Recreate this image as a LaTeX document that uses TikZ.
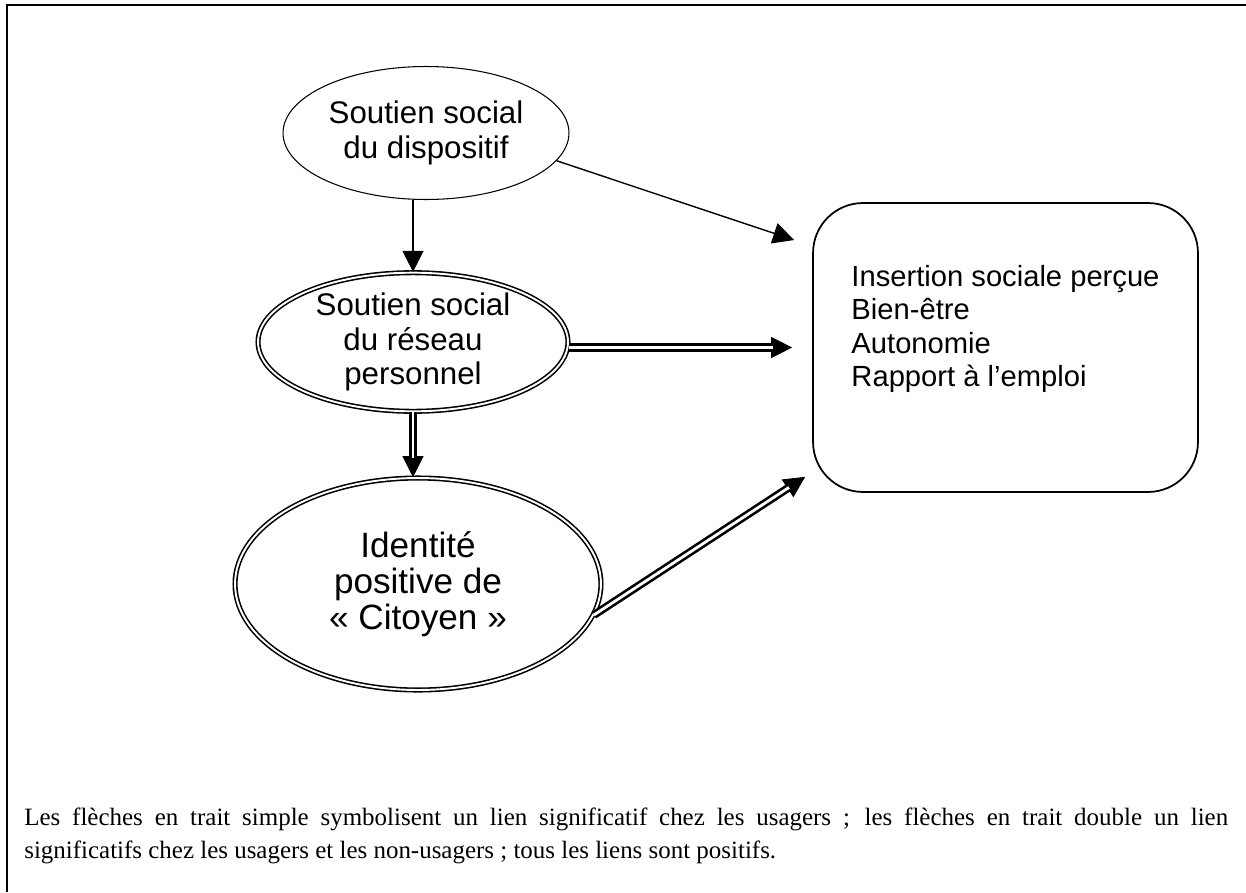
\documentclass[tikz,border=0pt]{standalone}
\usepackage{fontspec}
\setmainfont{Liberation Serif}
\newfontfamily\arialfam{Liberation Sans}
\usetikzlibrary{shapes.geometric,arrows.meta}

\begin{document}
\begin{tikzpicture}[x=0.02cm, y=-0.02cm,
		bulle/.style={ellipse, draw, line width=0.6pt, inner sep=0pt, align=center, font=\arialfam\fontsize{17.8}{19.6}\selectfont},
		bulledouble/.style={bulle, double, line width=0.9pt, double distance=1.1pt},
		fleche/.style={line width=0.8pt, -{Triangle[length=12pt, width=12pt]}},
		flechedouble/.style={line width=4.6pt, -{Triangle[length=12pt, width=12pt, line width=0.5pt]}, postaction={draw=white, line width=1.6pt, -, shorten >=11pt}}]
		\useasboundingbox (0,0) rectangle (1246,892);
		\draw[line width=1.4pt] (1246,5) -- (7,5) -- (7,892);

		\node[bulle, minimum width=5.72cm, minimum height=2.66cm] (disp) at (426,133) {Soutien social\\du dispositif};
		\node[bulledouble, minimum width=6.2cm, minimum height=2.74cm] (reseau) at (413,342) {Soutien social\\du réseau\\personnel};
		\node[bulledouble, minimum width=7.32cm, minimum height=4.24cm, font=\arialfam\fontsize{20}{20.6}\selectfont] (ident) at (418,584) {Identité\\positive de\\«~Citoyen~»};
		\node[draw, rounded corners=1cm, line width=1pt, minimum width=7.7cm, minimum height=5.78cm, align=left, font=\arialfam\fontsize{16.6}{19}\selectfont] (effets) at (1005.5,347.5) {Insertion sociale perçue\\Bien-être\\Autonomie\\Rapport à l’emploi\\\strut};

		\draw[fleche] (disp.south -| reseau.north) -- (reseau.north);
		\draw[fleche] (disp.-12) -- ([xshift=-0.36cm, yshift=2.15cm]effets.west);
		\draw[flechedouble] (effets.west -| reseau.east) -- ([xshift=-0.4cm]effets.west);
		\draw[flechedouble] (reseau.south) -- (reseau.south |- ident.north);
		\draw[flechedouble] (ident.-10) -- ([xshift=-0.14cm, yshift=0.32cm]effets.south west);

		\node[anchor=north west, inner sep=0pt, text width=24.08cm, align=justify, font=\fontsize{14.2}{18.7}\selectfont] (legende) at (24,808) {Les flèches en trait simple symbolisent un lien significatif chez les usagers ; les flèches en trait double un lien\linebreak significatifs chez les usagers et les non-usagers ; tous les liens sont positifs.};
	\end{tikzpicture}
\end{document}
